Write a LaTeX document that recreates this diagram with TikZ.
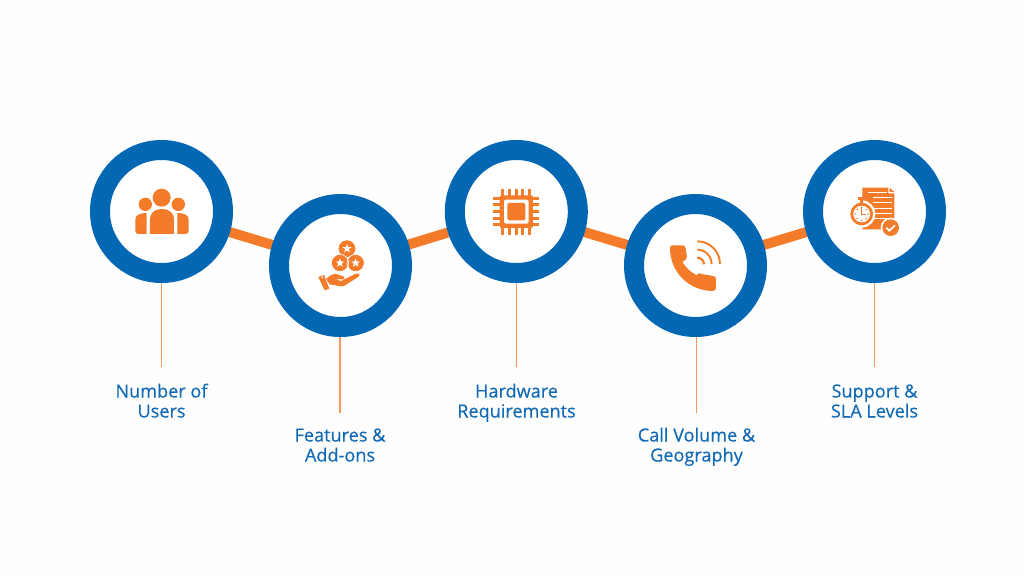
\documentclass[tikz,border=0pt]{standalone}
\usepackage{fontspec}
\usetikzlibrary{backgrounds}
\setmainfont{Open Sans}
\newfontfamily\labelfont[FakeBold=0.3]{Open Sans}
\definecolor{ringblue}{HTML}{0467B4}
\definecolor{accent}{HTML}{F47B29}
\definecolor{thinline}{HTML}{F7995A}
\definecolor{labelblue}{HTML}{0F69B4}
\definecolor{paper}{HTML}{FEFEFE}
\tikzset{
  ringnode/.style={circle,draw=ringblue,line width=20pt,fill=white,minimum size=123pt,inner sep=0pt,outer sep=0pt},
  linkline/.style={draw=accent,line width=10pt},
  dropline/.style={draw=thinline,line width=1.3pt},
  labeltext/.style={text=labelblue,align=center,font=\labelfont\fontsize{18.1}{20}\selectfont,inner sep=0pt,anchor=base},
  ico/.style={fill=accent,draw=none},
  starmark/.pic={\fill[white] (-90:#1) -- (-54:0.4*#1) -- (-18:#1) -- (18:0.4*#1) -- (54:#1) -- (90:0.4*#1) -- (126:#1) -- (162:0.4*#1) -- (198:#1) -- (234:0.4*#1) -- cycle;}
}
\begin{document}
\begin{tikzpicture}[x=1pt,y=-1pt]
\useasboundingbox (0,0) rectangle (1024,576);
% rings
\node[ringnode] (r1) at (161.5,211.5) {};
\node[ringnode] (r2) at (340.5,265.5) {};
\node[ringnode] (r3) at (516.3,211.5) {};
\node[ringnode] (r4) at (695.5,265.5) {};
\node[ringnode] (r5) at (874.5,211.5) {};
% drop ends
\coordinate (d1) at (161.5,367);
\coordinate (d2) at (340,413);
\coordinate (d3) at (516.3,367);
\coordinate (d4) at (696.5,413);
\coordinate (d5) at (874.5,367);
\begin{scope}[on background layer]
\fill[paper] (0,0) rectangle (1024,576);
\draw[linkline] (r1.center) -- (r2.center);
\draw[linkline] (r2.center) -- (r3.center);
\draw[linkline] (r3.center) -- (r4.center);
\draw[linkline] (r4.center) -- (r5.center);
\draw[dropline] (r1.south) -- (d1);
\draw[dropline] (r2.south -| d2) -- (d2);
\draw[dropline] (r3.south) -- (d3);
\draw[dropline] (r4.south -| d4) -- (d4);
\draw[dropline] (r5.south) -- (d5);
\end{scope}
% labels
\node[labeltext] (l1) at (161.5,417.5) {Number of\\Users};
\node[labeltext] (l2) at (340,461.5) {Features \&\\Add-ons};
\node[labeltext] (l3) at (516.5,417.5) {Hardware\\Requirements};
\node[labeltext] (l4) at (696.5,461.5) {Call Volume \&\\Geography};
\node[labeltext] (l5) at (874.5,417.5) {Support \&\\SLA Levels};
% icon 1: people (zoom coordinates)
\begin{scope}[shift={(90,140)},x=0.3333pt,y=-0.3333pt]
\fill[ico] (215,173) circle[radius=27];
\fill[ico] (166,193) circle[radius=20];
\fill[ico] (265,193) circle[radius=20];
\fill[ico] (180,282) -- (180,240) .. controls (180,217) and (195,207) .. (216,207) .. controls (237,207) and (252,217) .. (252,240) -- (252,282) -- cycle;
\fill[ico] (170,282) -- (145,282) .. controls (139,282) and (136,278) .. (136,273) -- (136,240) .. controls (136,226) and (146,220) .. (170,219) -- cycle;
\fill[ico] (262,282) -- (286,282) .. controls (292,282) and (296,278) .. (296,273) -- (296,240) .. controls (296,226) and (286,220) .. (262,219) -- cycle;
\end{scope}
% icon 2: hand with stars
\begin{scope}[shift={(90,140)},x=0.3333pt,y=-0.3333pt]
\fill[ico] (771,326) circle[radius=25];
\fill[ico] (750,369) circle[radius=26];
\fill[ico] (797,369) circle[radius=26];
\draw[white,line width=0.7pt] (750,369) circle[radius=26];
\draw[white,line width=0.7pt] (797,369) circle[radius=26];
\pic at (771,326) {starmark=14};
\pic at (750,369) {starmark=14};
\pic at (797,369) {starmark=14};
\fill[ico] (685,411) -- (702,405) -- (718,446) -- (704,451) -- cycle;
\fill[ico] (708,417) .. controls (722,404) and (735,398) .. (745,404) -- (762,410) .. controls (768,414) and (762,420) .. (752,418) -- (738,416) -- (752,424) -- (795,402) .. controls (806,398) and (813,403) .. (806,410) -- (762,438) .. controls (748,443) and (735,432) .. (720,434) -- cycle;
\fill[white] (697,412) circle[radius=3];
\end{scope}
% icon 3: chip
\begin{scope}[shift={(440,140)},x=0.3333pt,y=-0.3333pt]
\foreach \p in {188,208,228,248,268}{
  \fill[ico] (\p-4.5,147) rectangle (\p+4.5,285);
}
\foreach \p in {175,195,215,235,255}{
  \fill[ico] (160,\p-4.5) rectangle (298,\p+4.5);
}
\fill[ico,rounded corners=2pt] (179,166) rectangle (279,264);
\fill[white,rounded corners=2pt] (192,179) rectangle (266,251);
\fill[ico,rounded corners=1.5pt] (202,189) rectangle (256,241);
\end{scope}
% icon 4: phone
\begin{scope}[shift={(440,140)},x=0.3333pt,y=-0.3333pt]
\fill[ico] (698,316) -- (728,316) .. controls (734,316) and (736,320) .. (737,326) -- (741,350) .. controls (741,356) and (738,359) .. (727,366) .. controls (738,384) and (752,396) .. (770,406) .. controls (776,396) and (780,401) .. (790,403) -- (820,408) .. controls (826,409) and (828,412) .. (828,418) -- (828,444) .. controls (828,450) and (824,453) .. (818,453) .. controls (745,452) and (690,395) .. (690,324) .. controls (690,319) and (693,316) .. (698,316) -- cycle;
\draw[accent,line width=1.9pt] (772,304) arc[start angle=-90,end angle=0,radius=68];
\draw[accent,line width=1.9pt] (772,329) arc[start angle=-90,end angle=0,radius=43];
\draw[accent,line width=2.2pt] (772,353) arc[start angle=-90,end angle=0,radius=20];
\end{scope}
% icon 5: document, stopwatch, check
\begin{scope}[shift={(800,140)},x=0.3333pt,y=-0.3333pt]
\fill[ico] (187,143) -- (265,143) -- (265,160) -- (283,160) -- (283,268) -- (187,268) -- cycle;
\fill[ico] (269,143) -- (283,156) -- (269,156) -- cycle;
\foreach \p in {172,188,204,220,236}{
  \draw[white,line width=0.9pt] (218,\p) -- (275,\p);
}
\draw[white,line width=0.9pt] (205,158) -- (262,158);
\fill[white] (185,222) circle[radius=41];
\fill[ico] (175,172) rectangle (195,180);
\fill[ico] (181,178) rectangle (189,190);
\fill[ico] (185,222) circle[radius=34];
\fill[white] (185,222) circle[radius=25];
\foreach \a in {0,45,...,315}{
  \fill[ico] (185,222) ++(\a:19) circle[radius=2.6];
}
\draw[accent,line width=1pt] (185,204) -- (185,224) -- (198,224);
\fill[white] (272,263) circle[radius=30];
\fill[ico] (272,263) circle[radius=25];
\draw[white,line width=1.7pt] (259,263) -- (268,272) -- (285,256);
\end{scope}
\end{tikzpicture}
\end{document}
